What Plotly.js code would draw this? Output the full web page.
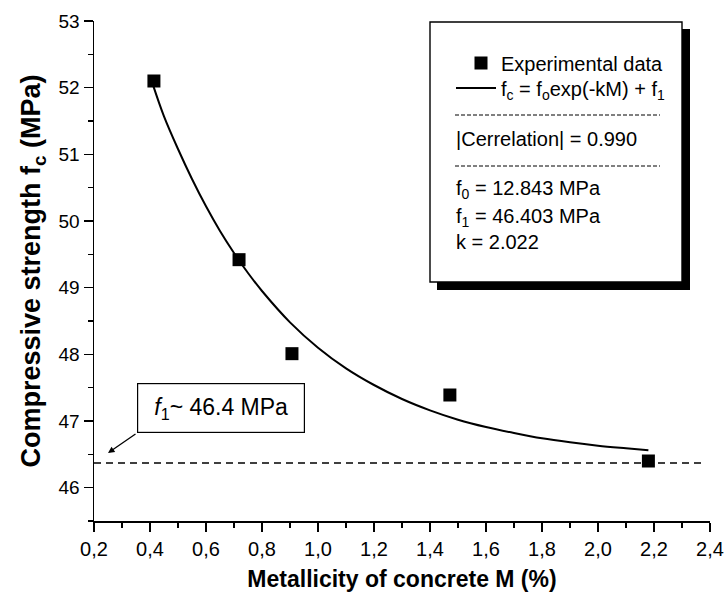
<!DOCTYPE html>
<html>
<head>
<meta charset="utf-8">
<script src="https://cdn.plot.ly/plotly-3.0.1.min.js"></script>
<style>html,body{margin:0;padding:0;background:#fff;}#chart{width:726px;height:599px;}</style>
</head>
<body>
<div id="chart"></div>
<script>
// Experimental data
const expM = [0.414, 0.718, 0.907, 1.471, 2.18];
const expF = [52.10, 49.42, 48.01, 47.39, 46.40];

// Fitted curve
const curveM = [0.41, 0.45, 0.5, 0.55, 0.6, 0.65, 0.7, 0.75, 0.8, 0.9, 1.0, 1.1, 1.2, 1.3, 1.4, 1.5, 1.6, 1.7, 1.8, 1.9, 2.0, 2.1, 2.18];
const curveF = [52.05, 51.57, 51.08, 50.63, 50.22, 49.85, 49.52, 49.22, 48.95, 48.48, 48.10, 47.79, 47.54, 47.33, 47.16, 47.02, 46.91, 46.82, 46.74, 46.68, 46.63, 46.59, 46.56];

// Asymptote f1
const asymM = [0.2, 2.37];
const asymF = [46.37, 46.37];

// Tick settings
const xTick0 = 0.2, xDtick = 0.2;
const yTick0 = 46, yDtick = 1;

const FONT = '"Liberation Sans", Arial, Helvetica, sans-serif';

const traces = [
  {x: asymM, y: asymF, mode: 'lines', showlegend: false, hoverinfo: 'skip',
   line: {color: '#000', width: 1.5, dash: '7px,5px'}},
  {x: expM, y: expF, mode: 'markers', name: 'Experimental data', legend: 'legend',
   marker: {symbol: 'square', size: 13, color: '#000'}},
  {x: curveM, y: curveF, mode: 'lines', name: 'f<sub>c</sub> = f<sub>o</sub>exp(-kM) + f<sub>1</sub>', legend: 'legend2',
   line: {color: '#000', width: 2, shape: 'spline'}}
];

const px = v => (v - 94) / 616;
const py = v => (521 - v) / 500;

const legendFont = {family: FONT, size: 20, color: '#000'};

const layout = {
  width: 726, height: 599,
  margin: {l: 94, r: 16, t: 21, b: 78},
  paper_bgcolor: '#fff', plot_bgcolor: '#fff',
  font: {family: FONT, color: '#000', size: 20},
  separators: ', ',
  showlegend: true,
  legend: {x: px(461), y: py(63), xanchor: 'left', yanchor: 'middle',
           bgcolor: 'rgba(0,0,0,0)', borderwidth: 0, font: legendFont, itemwidth: 30},
  legend2: {x: px(451), y: py(88), xanchor: 'left', yanchor: 'middle',
           bgcolor: 'rgba(0,0,0,0)', borderwidth: 0, font: legendFont, itemwidth: 40},
  xaxis: {
    range: [0.2, 2.4], tick0: xTick0, dtick: xDtick, tickformat: '.1f',
    showline: true, linecolor: '#000', linewidth: 1.5, mirror: false,
    ticks: 'outside', ticklen: 9, tickwidth: 1.5, tickcolor: '#000',
    minor: {dtick: 0.1, tick0: 0.2, ticks: 'outside', ticklen: 5, tickwidth: 1.5, tickcolor: '#000'},
    showgrid: false, zeroline: false,
    tickfont: {family: FONT, size: 20, color: '#000'},
    title: {text: '<b>Metallicity of concrete M (%)</b>', font: {family: FONT, size: 23, color: '#000'}, standoff: 12}
  },
  yaxis: {
    range: [45.5, 53], tick0: yTick0, dtick: yDtick,
    showline: true, linecolor: '#000', linewidth: 1.5, mirror: false,
    ticks: 'outside', ticklen: 9, tickwidth: 1.5, tickcolor: '#000',
    minor: {dtick: 0.5, tick0: 46, ticks: 'outside', ticklen: 5, tickwidth: 1.5, tickcolor: '#000'},
    showgrid: false, zeroline: false,
    tickfont: {family: FONT, size: 19, color: '#000'},
    title: {text: '<b>Compressive strength f<sub>c</sub> (MPa)</b>', font: {family: FONT, size: 27, color: '#000'}, standoff: 10}
  },
  shapes: [
    // legend box shadow
    {type: 'rect', xref: 'paper', yref: 'paper', x0: px(437), x1: px(690), y0: py(290), y1: py(29),
     fillcolor: '#000', line: {width: 0}, layer: 'above'},
    // legend box
    {type: 'rect', xref: 'paper', yref: 'paper', x0: px(430), x1: px(682), y0: py(282), y1: py(22),
     fillcolor: '#fff', line: {color: '#000', width: 1.4}, layer: 'above'},
    // separators
    {type: 'line', xref: 'paper', yref: 'paper', x0: px(455), x1: px(660), y0: py(115), y1: py(115),
     line: {color: '#000', width: 1, dash: '4px,2px'}, layer: 'above'},
    {type: 'line', xref: 'paper', yref: 'paper', x0: px(455), x1: px(660), y0: py(166), y1: py(166),
     line: {color: '#000', width: 1, dash: '4px,2px'}, layer: 'above'}
  ],
  annotations: [
    {xref: 'paper', yref: 'paper', x: px(454), y: py(139), xanchor: 'left', yanchor: 'middle', showarrow: false,
     text: '|Cerrelation| = 0.990', font: {family: FONT, size: 20}},
    {xref: 'paper', yref: 'paper', x: px(454), y: py(190), xanchor: 'left', yanchor: 'middle', showarrow: false,
     text: 'f<sub>0</sub> = 12.843 MPa', font: {family: FONT, size: 20}},
    {xref: 'paper', yref: 'paper', x: px(454), y: py(217), xanchor: 'left', yanchor: 'middle', showarrow: false,
     text: 'f<sub>1</sub> = 46.403 MPa', font: {family: FONT, size: 20}},
    {xref: 'paper', yref: 'paper', x: px(454), y: py(242), xanchor: 'left', yanchor: 'middle', showarrow: false,
     text: 'k = 2.022', font: {family: FONT, size: 20}},
    // f1 label box
    {xref: 'paper', yref: 'paper', x: px(221), y: py(408), xanchor: 'center', yanchor: 'middle', showarrow: false,
     text: '<i>f</i><sub>1</sub>~ 46.4 MPa', font: {family: FONT, size: 23},
     bordercolor: '#000', borderwidth: 1.2, borderpad: 0, bgcolor: '#fff', width: 166, height: 48},
    // arrow
    {xref: 'x', yref: 'y', x: 0.25, y: 46.52, ax: 29, ay: -20, text: '', showarrow: true,
     arrowhead: 2, arrowsize: 1, arrowwidth: 1.3, arrowcolor: '#000'}
  ]
};

Plotly.newPlot('chart', traces, layout, {displayModeBar: false, staticPlot: true});
</script>
</body>
</html>
